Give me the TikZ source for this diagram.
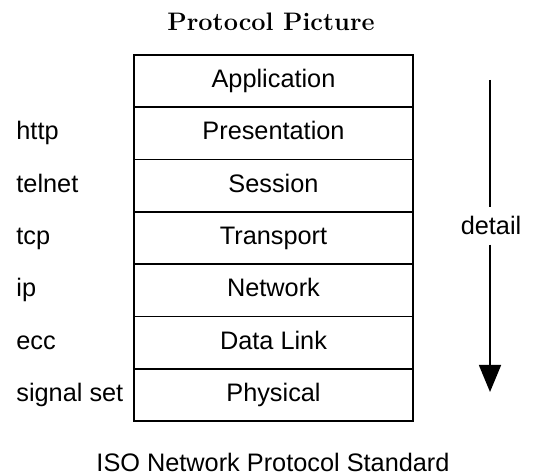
\documentclass[tikz,border=0pt]{standalone}
\usepackage{fontspec}
\newfontfamily\helv{Liberation Sans}
\usetikzlibrary{positioning,arrows.meta}

\begin{document}
\begin{tikzpicture}[x=0.5bp, y=-0.5bp,
    l/.style={draw, line width=0.8pt, minimum width=139.5bp, inner sep=0pt, outer sep=0pt,
              text height=16.25bp, text depth=9.9bp, font=\helv\fontsize{12.7}{15}\selectfont},
    w/.style={font=\helv\fontsize{12.7}{15}\selectfont, inner sep=0pt, anchor=base west}]
  \useasboundingbox (0,0) rectangle (545,476);
  \node[font=\fontsize{12.7}{15}\selectfont\bfseries, anchor=base] (title) at (271,31) {Protocol Picture};
  \node[l, anchor=north] (app) at (273.5,55) {Application};
  \node[l, below=0pt of app] (pres) {Presentation};
  \node[l, below=0pt of pres] (sess) {Session};
  \node[l, below=0pt of sess] (trans) {Transport};
  \node[l, below=0pt of trans] (net) {Network};
  \node[l, below=0pt of net] (link) {Data Link};
  \node[l, below=0pt of link] (phys) {Physical};
  \coordinate (lft) at (16,0);
  \node[w] (http) at (lft |- pres.base) {http};
  \node[w] (telnet) at (lft |- sess.base) {telnet};
  \node[w] (tcp) at (lft |- trans.base) {tcp};
  \node[w] (ip) at (lft |- net.base) {ip};
  \node[w] (ecc) at (lft |- link.base) {ecc};
  \node[w] (sig) at (lft |- phys.base) {signal set};
  \coordinate (top) at (490,80);
  \coordinate (bot) at (490,392);
  \node[w, anchor=base, inner sep=4.5bp] (det) at (491,235) {detail};
  \draw[line width=0.8pt] (top) -- (top |- det.north);
  \draw[line width=0.8pt, -{Triangle[length=13.5bp,width=11bp]}] (top |- det.south) -- (bot);
  \node[w, anchor=base] (cap) at (273,471) {ISO Network Protocol Standard};
\end{tikzpicture}
\end{document}
